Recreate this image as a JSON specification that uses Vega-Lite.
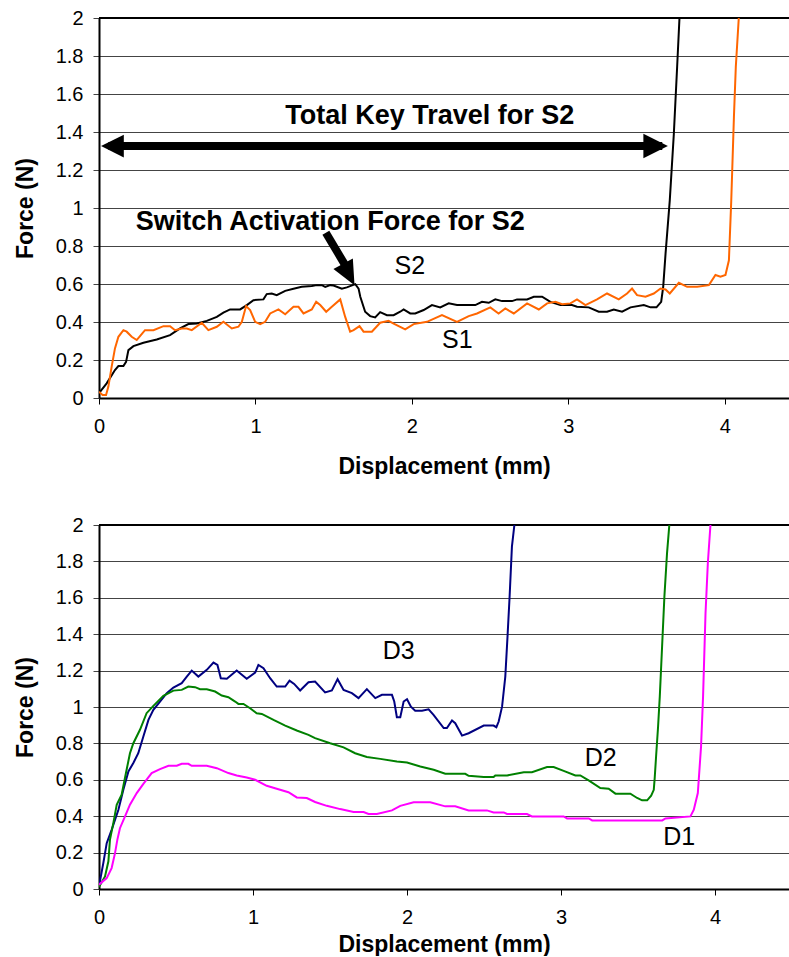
{
  "$schema": "https://vega.github.io/schema/vega-lite/v6.json",
  "padding": {"left": 14, "top": 8, "right": 0, "bottom": 0},
  "spacing": 37,
  "config": {
    "font": "Liberation Sans",
    "view": {"stroke": null},
    "axisX": {"grid": false, "tickSize": 6, "tickColor": "black", "domainColor": "black", "domainWidth": 2, "labelFontSize": 20, "labelColor": "black", "labelPadding": 12, "labelFlush": false, "titleFontSize": 23, "titleFontWeight": "bold", "titleColor": "black"},
    "axisY": {"grid": true, "gridColor": "#444", "gridWidth": 1, "tickSize": 6, "tickColor": "#444", "domainColor": "black", "domainWidth": 2, "labelFontSize": 20, "labelColor": "black", "labelPadding": 10, "titleFontSize": 23, "titleFontWeight": "bold", "titleColor": "black", "titlePadding": 18}
  },
  "resolve": {"scale": {"color": "independent", "x": "independent", "y": "independent"}},
  "datasets": {
    "top": [
      {"series":"S2","x":0,"y":0.025},{"series":"S2","x":0.049,"y":0.077},{"series":"S2","x":0.102,"y":0.147},{"series":"S2","x":0.124,"y":0.168},{"series":"S2","x":0.156,"y":0.168},{"series":"S2","x":0.173,"y":0.19},{"series":"S2","x":0.188,"y":0.252},{"series":"S2","x":0.22,"y":0.273},{"series":"S2","x":0.284,"y":0.291},{"series":"S2","x":0.369,"y":0.308},{"series":"S2","x":0.454,"y":0.331},{"series":"S2","x":0.518,"y":0.366},{"series":"S2","x":0.571,"y":0.389},{"series":"S2","x":0.625,"y":0.392},{"series":"S2","x":0.689,"y":0.406},{"series":"S2","x":0.753,"y":0.427},{"series":"S2","x":0.795,"y":0.449},{"series":"S2","x":0.838,"y":0.466},{"series":"S2","x":0.902,"y":0.466},{"series":"S2","x":0.945,"y":0.489},{"series":"S2","x":0.987,"y":0.515},{"series":"S2","x":1.051,"y":0.519},{"series":"S2","x":1.072,"y":0.547},{"series":"S2","x":1.104,"y":0.55},{"series":"S2","x":1.136,"y":0.541},{"series":"S2","x":1.19,"y":0.564},{"series":"S2","x":1.243,"y":0.575},{"series":"S2","x":1.296,"y":0.585},{"series":"S2","x":1.36,"y":0.589},{"series":"S2","x":1.392,"y":0.594},{"series":"S2","x":1.424,"y":0.594},{"series":"S2","x":1.446,"y":0.585},{"series":"S2","x":1.478,"y":0.594},{"series":"S2","x":1.499,"y":0.592},{"series":"S2","x":1.552,"y":0.575},{"series":"S2","x":1.584,"y":0.582},{"series":"S2","x":1.638,"y":0.599},{"series":"S2","x":1.659,"y":0.576},{"series":"S2","x":1.67,"y":0.533},{"series":"S2","x":1.701,"y":0.454},{"series":"S2","x":1.733,"y":0.431},{"series":"S2","x":1.765,"y":0.424},{"series":"S2","x":1.797,"y":0.452},{"series":"S2","x":1.84,"y":0.436},{"series":"S2","x":1.883,"y":0.436},{"series":"S2","x":1.925,"y":0.454},{"series":"S2","x":1.947,"y":0.466},{"series":"S2","x":1.989,"y":0.445},{"series":"S2","x":2.021,"y":0.445},{"series":"S2","x":2.075,"y":0.463},{"series":"S2","x":2.128,"y":0.489},{"series":"S2","x":2.181,"y":0.477},{"series":"S2","x":2.235,"y":0.498},{"series":"S2","x":2.288,"y":0.489},{"series":"S2","x":2.405,"y":0.489},{"series":"S2","x":2.448,"y":0.506},{"series":"S2","x":2.491,"y":0.501},{"series":"S2","x":2.533,"y":0.519},{"series":"S2","x":2.576,"y":0.51},{"series":"S2","x":2.64,"y":0.51},{"series":"S2","x":2.672,"y":0.519},{"series":"S2","x":2.736,"y":0.519},{"series":"S2","x":2.779,"y":0.533},{"series":"S2","x":2.832,"y":0.533},{"series":"S2","x":2.885,"y":0.506},{"series":"S2","x":2.949,"y":0.489},{"series":"S2","x":3.023,"y":0.489},{"series":"S2","x":3.055,"y":0.48},{"series":"S2","x":3.13,"y":0.477},{"series":"S2","x":3.194,"y":0.454},{"series":"S2","x":3.247,"y":0.454},{"series":"S2","x":3.29,"y":0.466},{"series":"S2","x":3.343,"y":0.454},{"series":"S2","x":3.397,"y":0.477},{"series":"S2","x":3.482,"y":0.489},{"series":"S2","x":3.525,"y":0.477},{"series":"S2","x":3.563,"y":0.477},{"series":"S2","x":3.593,"y":0.506},{"series":"S2","x":3.606,"y":0.585},{"series":"S2","x":3.621,"y":0.76},{"series":"S2","x":3.648,"y":1.04},{"series":"S2","x":3.674,"y":1.391},{"series":"S2","x":3.695,"y":1.742},{"series":"S2","x":3.71,"y":2.0},
      {"series":"S1","x":0,"y":0.033},{"series":"S1","x":0.023,"y":0.016},{"series":"S1","x":0.045,"y":0.016},{"series":"S1","x":0.06,"y":0.06},{"series":"S1","x":0.081,"y":0.165},{"series":"S1","x":0.102,"y":0.261},{"series":"S1","x":0.124,"y":0.322},{"series":"S1","x":0.156,"y":0.357},{"series":"S1","x":0.177,"y":0.349},{"series":"S1","x":0.209,"y":0.322},{"series":"S1","x":0.241,"y":0.305},{"series":"S1","x":0.262,"y":0.326},{"series":"S1","x":0.294,"y":0.357},{"series":"S1","x":0.348,"y":0.357},{"series":"S1","x":0.412,"y":0.378},{"series":"S1","x":0.454,"y":0.378},{"series":"S1","x":0.486,"y":0.357},{"series":"S1","x":0.529,"y":0.366},{"series":"S1","x":0.561,"y":0.366},{"series":"S1","x":0.593,"y":0.357},{"series":"S1","x":0.657,"y":0.396},{"series":"S1","x":0.699,"y":0.357},{"series":"S1","x":0.753,"y":0.375},{"series":"S1","x":0.795,"y":0.401},{"series":"S1","x":0.849,"y":0.366},{"series":"S1","x":0.891,"y":0.375},{"series":"S1","x":0.913,"y":0.401},{"series":"S1","x":0.94,"y":0.484},{"series":"S1","x":0.966,"y":0.463},{"series":"S1","x":0.998,"y":0.401},{"series":"S1","x":1.03,"y":0.389},{"series":"S1","x":1.062,"y":0.401},{"series":"S1","x":1.094,"y":0.445},{"series":"S1","x":1.147,"y":0.466},{"series":"S1","x":1.19,"y":0.441},{"series":"S1","x":1.243,"y":0.48},{"series":"S1","x":1.275,"y":0.48},{"series":"S1","x":1.307,"y":0.445},{"series":"S1","x":1.36,"y":0.466},{"series":"S1","x":1.388,"y":0.506},{"series":"S1","x":1.414,"y":0.489},{"series":"S1","x":1.452,"y":0.454},{"series":"S1","x":1.488,"y":0.48},{"series":"S1","x":1.542,"y":0.519},{"series":"S1","x":1.573,"y":0.428},{"series":"S1","x":1.605,"y":0.349},{"series":"S1","x":1.627,"y":0.357},{"series":"S1","x":1.665,"y":0.378},{"series":"S1","x":1.691,"y":0.349},{"series":"S1","x":1.744,"y":0.349},{"series":"S1","x":1.797,"y":0.396},{"series":"S1","x":1.851,"y":0.406},{"series":"S1","x":1.883,"y":0.392},{"series":"S1","x":1.957,"y":0.361},{"series":"S1","x":2.011,"y":0.389},{"series":"S1","x":2.096,"y":0.401},{"series":"S1","x":2.192,"y":0.436},{"series":"S1","x":2.288,"y":0.401},{"series":"S1","x":2.363,"y":0.431},{"series":"S1","x":2.416,"y":0.445},{"series":"S1","x":2.501,"y":0.477},{"series":"S1","x":2.554,"y":0.445},{"series":"S1","x":2.597,"y":0.471},{"series":"S1","x":2.651,"y":0.445},{"series":"S1","x":2.736,"y":0.498},{"series":"S1","x":2.811,"y":0.466},{"series":"S1","x":2.864,"y":0.498},{"series":"S1","x":2.917,"y":0.506},{"series":"S1","x":2.96,"y":0.494},{"series":"S1","x":3.013,"y":0.498},{"series":"S1","x":3.055,"y":0.519},{"series":"S1","x":3.109,"y":0.489},{"series":"S1","x":3.183,"y":0.519},{"series":"S1","x":3.247,"y":0.55},{"series":"S1","x":3.322,"y":0.519},{"series":"S1","x":3.375,"y":0.55},{"series":"S1","x":3.407,"y":0.576},{"series":"S1","x":3.439,"y":0.541},{"series":"S1","x":3.493,"y":0.533},{"series":"S1","x":3.546,"y":0.55},{"series":"S1","x":3.589,"y":0.576},{"series":"S1","x":3.621,"y":0.571},{"series":"S1","x":3.648,"y":0.55},{"series":"S1","x":3.706,"y":0.606},{"series":"S1","x":3.759,"y":0.585},{"series":"S1","x":3.823,"y":0.585},{"series":"S1","x":3.898,"y":0.594},{"series":"S1","x":3.94,"y":0.647},{"series":"S1","x":3.972,"y":0.638},{"series":"S1","x":4.004,"y":0.647},{"series":"S1","x":4.026,"y":0.725},{"series":"S1","x":4.041,"y":1.041},{"series":"S1","x":4.058,"y":1.479},{"series":"S1","x":4.07,"y":1.742},{"series":"S1","x":4.089,"y":2.0}
    ],
    "bot": [
      {"series":"D3","x":0,"y":0.015},{"series":"D3","x":0.028,"y":0.142},{"series":"D3","x":0.05,"y":0.252},{"series":"D3","x":0.082,"y":0.325},{"series":"D3","x":0.126,"y":0.435},{"series":"D3","x":0.158,"y":0.545},{"series":"D3","x":0.191,"y":0.646},{"series":"D3","x":0.223,"y":0.692},{"series":"D3","x":0.255,"y":0.746},{"series":"D3","x":0.288,"y":0.838},{"series":"D3","x":0.321,"y":0.929},{"series":"D3","x":0.353,"y":0.984},{"series":"D3","x":0.396,"y":1.03},{"series":"D3","x":0.44,"y":1.076},{"series":"D3","x":0.483,"y":1.107},{"series":"D3","x":0.537,"y":1.131},{"series":"D3","x":0.57,"y":1.167},{"series":"D3","x":0.602,"y":1.2},{"series":"D3","x":0.645,"y":1.167},{"series":"D3","x":0.7,"y":1.204},{"series":"D3","x":0.743,"y":1.244},{"series":"D3","x":0.769,"y":1.231},{"series":"D3","x":0.791,"y":1.158},{"series":"D3","x":0.83,"y":1.155},{"series":"D3","x":0.894,"y":1.2},{"series":"D3","x":0.959,"y":1.155},{"series":"D3","x":1.014,"y":1.189},{"series":"D3","x":1.035,"y":1.231},{"series":"D3","x":1.068,"y":1.213},{"series":"D3","x":1.111,"y":1.158},{"series":"D3","x":1.154,"y":1.112},{"series":"D3","x":1.209,"y":1.112},{"series":"D3","x":1.237,"y":1.145},{"series":"D3","x":1.267,"y":1.127},{"series":"D3","x":1.306,"y":1.091},{"series":"D3","x":1.36,"y":1.136},{"series":"D3","x":1.403,"y":1.14},{"series":"D3","x":1.468,"y":1.08},{"series":"D3","x":1.512,"y":1.091},{"series":"D3","x":1.549,"y":1.153},{"series":"D3","x":1.588,"y":1.094},{"series":"D3","x":1.642,"y":1.076},{"series":"D3","x":1.685,"y":1.049},{"series":"D3","x":1.739,"y":1.098},{"series":"D3","x":1.794,"y":1.049},{"series":"D3","x":1.837,"y":1.067},{"series":"D3","x":1.902,"y":1.067},{"series":"D3","x":1.917,"y":1.03},{"series":"D3","x":1.934,"y":0.944},{"series":"D3","x":1.956,"y":0.944},{"series":"D3","x":1.978,"y":1.03},{"series":"D3","x":2.0,"y":1.043},{"series":"D3","x":2.025,"y":1.002},{"series":"D3","x":2.053,"y":0.98},{"series":"D3","x":2.097,"y":0.98},{"series":"D3","x":2.14,"y":0.987},{"series":"D3","x":2.172,"y":0.957},{"series":"D3","x":2.238,"y":0.884},{"series":"D3","x":2.259,"y":0.884},{"series":"D3","x":2.292,"y":0.926},{"series":"D3","x":2.313,"y":0.911},{"series":"D3","x":2.357,"y":0.843},{"series":"D3","x":2.4,"y":0.856},{"series":"D3","x":2.498,"y":0.898},{"series":"D3","x":2.562,"y":0.898},{"series":"D3","x":2.58,"y":0.889},{"series":"D3","x":2.595,"y":0.92},{"series":"D3","x":2.617,"y":1.002},{"series":"D3","x":2.638,"y":1.167},{"series":"D3","x":2.653,"y":1.396},{"series":"D3","x":2.666,"y":1.607},{"series":"D3","x":2.681,"y":1.881},{"series":"D3","x":2.697,"y":2.0},
      {"series":"D2","x":0,"y":0.011},{"series":"D2","x":0.039,"y":0.069},{"series":"D2","x":0.061,"y":0.152},{"series":"D2","x":0.071,"y":0.27},{"series":"D2","x":0.093,"y":0.362},{"series":"D2","x":0.115,"y":0.463},{"series":"D2","x":0.147,"y":0.518},{"series":"D2","x":0.175,"y":0.637},{"series":"D2","x":0.201,"y":0.746},{"series":"D2","x":0.223,"y":0.801},{"series":"D2","x":0.266,"y":0.875},{"series":"D2","x":0.309,"y":0.966},{"series":"D2","x":0.353,"y":1.006},{"series":"D2","x":0.418,"y":1.061},{"series":"D2","x":0.483,"y":1.09},{"series":"D2","x":0.537,"y":1.094},{"series":"D2","x":0.58,"y":1.112},{"series":"D2","x":0.624,"y":1.109},{"series":"D2","x":0.656,"y":1.098},{"series":"D2","x":0.7,"y":1.098},{"series":"D2","x":0.754,"y":1.085},{"series":"D2","x":0.797,"y":1.063},{"series":"D2","x":0.84,"y":1.054},{"series":"D2","x":0.884,"y":1.03},{"series":"D2","x":0.905,"y":1.017},{"series":"D2","x":0.938,"y":1.017},{"series":"D2","x":0.981,"y":0.993},{"series":"D2","x":1.024,"y":0.966},{"series":"D2","x":1.057,"y":0.962},{"series":"D2","x":1.133,"y":0.929},{"series":"D2","x":1.209,"y":0.898},{"series":"D2","x":1.284,"y":0.871},{"series":"D2","x":1.36,"y":0.847},{"series":"D2","x":1.403,"y":0.829},{"series":"D2","x":1.501,"y":0.801},{"series":"D2","x":1.588,"y":0.778},{"series":"D2","x":1.663,"y":0.746},{"series":"D2","x":1.739,"y":0.725},{"series":"D2","x":1.826,"y":0.715},{"series":"D2","x":1.934,"y":0.701},{"series":"D2","x":2.0,"y":0.695},{"series":"D2","x":2.086,"y":0.673},{"series":"D2","x":2.173,"y":0.655},{"series":"D2","x":2.248,"y":0.633},{"series":"D2","x":2.378,"y":0.633},{"series":"D2","x":2.4,"y":0.622},{"series":"D2","x":2.498,"y":0.615},{"series":"D2","x":2.562,"y":0.615},{"series":"D2","x":2.573,"y":0.624},{"series":"D2","x":2.65,"y":0.624},{"series":"D2","x":2.758,"y":0.642},{"series":"D2","x":2.811,"y":0.642},{"series":"D2","x":2.909,"y":0.67},{"series":"D2","x":2.952,"y":0.67},{"series":"D2","x":3.017,"y":0.649},{"series":"D2","x":3.093,"y":0.624},{"series":"D2","x":3.125,"y":0.624},{"series":"D2","x":3.179,"y":0.597},{"series":"D2","x":3.255,"y":0.555},{"series":"D2","x":3.309,"y":0.551},{"series":"D2","x":3.353,"y":0.524},{"series":"D2","x":3.45,"y":0.524},{"series":"D2","x":3.494,"y":0.5},{"series":"D2","x":3.526,"y":0.487},{"series":"D2","x":3.559,"y":0.487},{"series":"D2","x":3.585,"y":0.513},{"series":"D2","x":3.602,"y":0.545},{"series":"D2","x":3.608,"y":0.609},{"series":"D2","x":3.617,"y":0.728},{"series":"D2","x":3.63,"y":0.893},{"series":"D2","x":3.641,"y":1.057},{"series":"D2","x":3.656,"y":1.332},{"series":"D2","x":3.671,"y":1.607},{"series":"D2","x":3.688,"y":1.844},{"series":"D2","x":3.703,"y":2.0},
      {"series":"D1","x":0,"y":0.024},{"series":"D1","x":0.05,"y":0.06},{"series":"D1","x":0.082,"y":0.115},{"series":"D1","x":0.104,"y":0.197},{"series":"D1","x":0.119,"y":0.27},{"series":"D1","x":0.136,"y":0.334},{"series":"D1","x":0.169,"y":0.399},{"series":"D1","x":0.201,"y":0.463},{"series":"D1","x":0.245,"y":0.527},{"series":"D1","x":0.288,"y":0.578},{"series":"D1","x":0.342,"y":0.637},{"series":"D1","x":0.396,"y":0.659},{"series":"D1","x":0.451,"y":0.677},{"series":"D1","x":0.505,"y":0.677},{"series":"D1","x":0.537,"y":0.688},{"series":"D1","x":0.58,"y":0.688},{"series":"D1","x":0.602,"y":0.677},{"series":"D1","x":0.7,"y":0.677},{"series":"D1","x":0.765,"y":0.664},{"series":"D1","x":0.84,"y":0.637},{"series":"D1","x":0.894,"y":0.624},{"series":"D1","x":0.959,"y":0.613},{"series":"D1","x":1.014,"y":0.6},{"series":"D1","x":1.089,"y":0.567},{"series":"D1","x":1.154,"y":0.551},{"series":"D1","x":1.23,"y":0.532},{"series":"D1","x":1.284,"y":0.503},{"series":"D1","x":1.349,"y":0.5},{"series":"D1","x":1.403,"y":0.478},{"series":"D1","x":1.479,"y":0.457},{"series":"D1","x":1.566,"y":0.439},{"series":"D1","x":1.653,"y":0.423},{"series":"D1","x":1.718,"y":0.423},{"series":"D1","x":1.75,"y":0.412},{"series":"D1","x":1.804,"y":0.412},{"series":"D1","x":1.902,"y":0.432},{"series":"D1","x":1.956,"y":0.457},{"series":"D1","x":2.043,"y":0.476},{"series":"D1","x":2.151,"y":0.476},{"series":"D1","x":2.248,"y":0.454},{"series":"D1","x":2.313,"y":0.454},{"series":"D1","x":2.4,"y":0.432},{"series":"D1","x":2.519,"y":0.432},{"series":"D1","x":2.562,"y":0.421},{"series":"D1","x":2.628,"y":0.421},{"series":"D1","x":2.649,"y":0.412},{"series":"D1","x":2.779,"y":0.412},{"series":"D1","x":2.811,"y":0.399},{"series":"D1","x":3.017,"y":0.399},{"series":"D1","x":3.039,"y":0.388},{"series":"D1","x":3.18,"y":0.388},{"series":"D1","x":3.202,"y":0.377},{"series":"D1","x":3.657,"y":0.377},{"series":"D1","x":3.678,"y":0.388},{"series":"D1","x":3.84,"y":0.399},{"series":"D1","x":3.862,"y":0.436},{"series":"D1","x":3.888,"y":0.527},{"series":"D1","x":3.909,"y":0.783},{"series":"D1","x":3.922,"y":1.057},{"series":"D1","x":3.938,"y":1.515},{"series":"D1","x":3.953,"y":1.79},{"series":"D1","x":3.97,"y":2.0}
    ]
  },
  "vconcat": [
    {
      "width": 690,
      "height": 380,
      "encoding": {
        "x": {"field": "x", "type": "quantitative", "scale": {"domain": [0, 4.41], "nice": false, "zero": false}, "axis": {"title": "Displacement (mm)", "titlePadding": 19, "values": [0, 1, 2, 3, 4], "format": "d"}},
        "y": {"field": "y", "type": "quantitative", "scale": {"domain": [0, 2], "nice": false}, "axis": {"title": "Force (N)", "values": [0, 0.2, 0.4, 0.6, 0.8, 1, 1.2, 1.4, 1.6, 1.8, 2], "format": "~g"}}
      },
      "layer": [
        {"data": {"values": [{"x": 0, "x2": 4.41, "y": 2}]}, "mark": {"type": "rule", "stroke": "black", "strokeWidth": 2}, "encoding": {"x2": {"field": "x2"}}},
        {"data": {"name": "top"}, "mark": {"type": "line", "strokeWidth": 2, "clip": true},
         "encoding": {"color": {"field": "series", "type": "nominal", "scale": {"domain": ["S1", "S2"], "range": ["#FF6600", "#000000"]}, "legend": null}}},
        {"data": {"values": [{"x": 0.06, "y": 1.326, "x2": 3.6, "y2": 1.326}, {"x": 1.45, "y": 0.87, "x2": 1.58, "y2": 0.69}]},
         "mark": {"type": "rule", "stroke": "black", "strokeWidth": 8, "strokeCap": "butt"},
         "encoding": {"x2": {"field": "x2"}, "y2": {"field": "y2"}}},
        {"data": {"values": [{"x": 3.636, "y": 1.326}]}, "mark": {"type": "point", "shape": "M0,0L-2,-1L-2,1Z", "size": 600, "filled": true, "fill": "black", "stroke": null, "opacity": 1}},
        {"data": {"values": [{"x": 0.013, "y": 1.326}]}, "mark": {"type": "point", "shape": "M0,0L2,-1L2,1Z", "size": 520, "filled": true, "fill": "black", "stroke": null, "opacity": 1}},
        {"data": {"values": [{"x": 1.633, "y": 0.594}]}, "mark": {"type": "point", "shape": "M0,0L-1,-2.2L1,-2.2Z", "size": 484, "angle": -28, "filled": true, "fill": "black", "stroke": null, "opacity": 1}},
        {"data": {"values": [{"x": 2.114, "y": 1.44, "label": "Total Key Travel for S2"}, {"x": 1.478, "y": 0.883, "label": "Switch Activation Force for S2"}]},
         "mark": {"type": "text", "fontSize": 27, "fontWeight": "bold", "align": "center", "baseline": "alphabetic", "color": "black"},
         "encoding": {"text": {"field": "label"}}},
        {"data": {"values": [{"x": 1.987, "y": 0.652, "label": "S2"}, {"x": 2.29, "y": 0.261, "label": "S1"}]},
         "mark": {"type": "text", "fontSize": 25, "align": "center", "baseline": "alphabetic", "color": "black"},
         "encoding": {"text": {"field": "label"}}}
      ]
    },
    {
      "width": 690,
      "height": 364,
      "encoding": {
        "x": {"field": "x", "type": "quantitative", "scale": {"domain": [0, 4.48], "nice": false, "zero": false}, "axis": {"title": "Displacement (mm)", "titlePadding": 6, "values": [0, 1, 2, 3, 4], "format": "d"}},
        "y": {"field": "y", "type": "quantitative", "scale": {"domain": [0, 2], "nice": false}, "axis": {"title": "Force (N)", "values": [0, 0.2, 0.4, 0.6, 0.8, 1, 1.2, 1.4, 1.6, 1.8, 2], "format": "~g"}}
      },
      "layer": [
        {"data": {"values": [{"x": 0, "x2": 4.48, "y": 2}]}, "mark": {"type": "rule", "stroke": "black", "strokeWidth": 2}, "encoding": {"x2": {"field": "x2"}}},
        {"data": {"name": "bot"}, "mark": {"type": "line", "strokeWidth": 2, "clip": true},
         "encoding": {"color": {"field": "series", "type": "nominal", "scale": {"domain": ["D1", "D2", "D3"], "range": ["#FF00FF", "#008000", "#000080"]}, "legend": null}}},
        {"data": {"values": [{"x": 1.946, "y": 1.264, "label": "D3"}, {"x": 3.257, "y": 0.678, "label": "D2"}, {"x": 3.767, "y": 0.243, "label": "D1"}]},
         "mark": {"type": "text", "fontSize": 25, "align": "center", "baseline": "alphabetic", "color": "black"},
         "encoding": {"text": {"field": "label"}}}
      ]
    }
  ]
}
